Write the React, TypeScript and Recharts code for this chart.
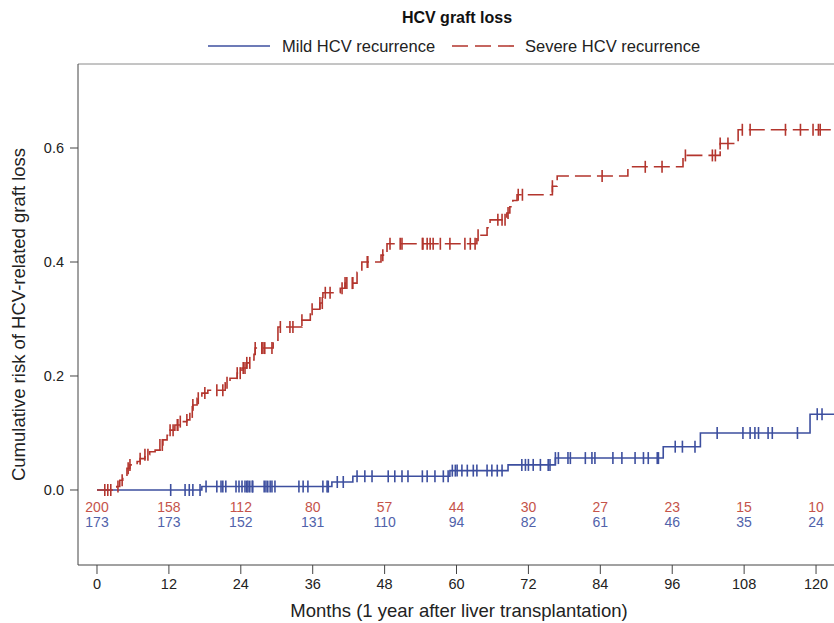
import { ComposedChart, Line, Scatter, XAxis, YAxis, ReferenceLine } from 'recharts'

// follow-up months shown on the x axis, and numbers at risk under each
const monthTicks = [0, 12, 24, 36, 48, 60, 72, 84, 96, 108, 120]
const riskTicks = [0, 0.2, 0.4, 0.6]
const atRiskSevere = [200, 158, 112, 80, 57, 44, 30, 27, 23, 15, 10]
const atRiskMild = [173, 173, 152, 131, 110, 94, 82, 61, 46, 35, 24]

// severe recurrence: step times (months) and cumulative risk after each step
const severeMonths = [
  0, 3.3, 3.8, 4.3, 5.0, 5.5, 6.7, 7.2, 8.0, 8.8, 9.7, 10.5, 11.0, 11.7, 12.2, 13.0, 13.9, 15.0, 15.5, 16.0,
  16.7, 17.5, 18.5, 21.4, 22.2, 23.4, 24.2, 25.0, 25.9, 26.2, 26.4, 29.4, 30.2, 34.2, 35.6, 37.2, 37.7, 40.6,
  41.4, 43.4, 44.2, 47.4, 48.4, 63.4, 65.1, 65.6, 68.4, 68.9, 69.4, 70.1, 76.0, 76.8, 88.6, 97.8, 104.0, 107.0, 124,
]
const severeRisk = [
  0, 0.006, 0.017, 0.026, 0.038, 0.044, 0.05, 0.055, 0.062, 0.067, 0.07, 0.079, 0.088, 0.096, 0.105, 0.114, 0.12,
  0.123, 0.137, 0.149, 0.161, 0.17, 0.175, 0.188, 0.196, 0.205, 0.214, 0.223, 0.228, 0.238, 0.249, 0.263, 0.286,
  0.298, 0.317, 0.328, 0.346, 0.354, 0.363, 0.382, 0.4, 0.412, 0.432, 0.447, 0.46, 0.474, 0.486, 0.497, 0.508,
  0.518, 0.533, 0.551, 0.567, 0.587, 0.608, 0.632, 0.632,
]
const severeCensored = [
  1.3, 1.8, 2.3, 3.5, 4.2, 5.2, 5.5, 7.2, 8.0, 8.5, 10.5, 10.9, 12.2, 12.7, 13.4, 13.5, 13.9, 15.0, 15.9, 16.0,
  16.9, 18.0, 20.0, 21.0, 21.7, 23.4, 23.9, 24.4, 24.7, 25.0, 25.5, 26.4, 27.5, 27.7, 28.0, 29.2, 30.6, 32.2,
  32.7, 34.2, 35.9, 37.2, 37.6, 38.1, 38.9, 40.9, 41.4, 41.7, 42.6, 42.7, 45.1, 45.2, 47.7, 48.9, 50.6, 50.9,
  54.3, 54.4, 55.1, 55.6, 56.1, 57.3, 58.9, 61.4, 62.3, 63.1, 63.6, 66.9, 67.6, 68.1, 68.6, 70.3, 71.0, 76.0,
  84.3, 91.5, 94.3, 98.2, 102.7, 103.2, 104.0, 105.3, 107.7, 109.0, 114.9, 117.4, 119.5, 120.4, 120.7,
]

// mild recurrence
const mildMonths = [0, 17.5, 39.2, 42.7, 58.9, 68.6, 76.5, 94.5, 100.7, 119.0, 124]
const mildRisk = [0, 0.006, 0.014, 0.024, 0.034, 0.044, 0.056, 0.076, 0.1, 0.133, 0.133]
const mildCensored = [
  12.3, 14.7, 15.4, 16.0, 17.2, 18.2, 20.0, 20.7, 21.0, 21.5, 23.2, 23.7, 24.2, 24.7, 25.0, 25.2, 25.5, 25.9,
  26.0, 27.9, 28.2, 28.5, 28.9, 29.2, 29.7, 33.7, 34.4, 35.2, 37.7, 38.4, 38.6, 40.1, 41.1, 43.4, 44.7, 45.9,
  48.6, 49.7, 50.9, 51.9, 54.3, 55.1, 56.4, 57.8, 58.6, 59.3, 59.8, 60.1, 60.9, 61.8, 62.8, 63.4, 65.1, 65.9,
  66.8, 67.6, 70.9, 71.5, 72.0, 72.8, 74.0, 75.3, 75.6, 76.5, 77.0, 78.6, 79.0, 81.5, 82.6, 83.1, 86.1, 87.6,
  89.8, 91.2, 92.0, 93.5, 93.7, 96.5, 97.7, 99.8, 103.5, 107.8, 109.0, 109.8, 110.4, 112.0, 112.7, 116.9,
  120.2, 121.0,
]

const SEVERE_LINE = '#b3352d'
const SEVERE_TEXT = '#c5534a'
const MILD_LINE = '#3d4f9f'
const MILD_TEXT = '#5162aa'
const FONT = '"Liberation Sans", Arial, sans-serif'

const X_MIN = -3.17
const X_MAX = 124
const Y_MIN = -0.1316
const Y_MAX = 0.7474

function toSteps(months: number[], risk: number[]) {
  return months.map((m, i) => ({ m, v: risk[i] }))
}

function riskAt(months: number[], risk: number[], t: number) {
  let v = 0
  for (let i = 0; i < months.length; i++) if (months[i] <= t) v = risk[i]
  return v
}

const severeSteps = toSteps(severeMonths, severeRisk)
const mildSteps = toSteps(mildMonths, mildRisk)
const severeMarks = severeCensored.map((m) => ({ m, v: riskAt(severeMonths, severeRisk, m) }))
const mildMarks = mildCensored.map((m) => ({ m, v: riskAt(mildMonths, mildRisk, m) }))
const severeAtRisk = monthTicks.map((m, i) => ({ m, v: -0.03, n: atRiskSevere[i] }))
const mildAtRisk = monthTicks.map((m, i) => ({ m, v: -0.056, n: atRiskMild[i] }))

const censorShape = (color: string) => (p: any) => (
  <line x1={p.cx} x2={p.cx} y1={p.cy - 6} y2={p.cy + 6} stroke={color} strokeWidth={1.6} />
)

const countShape = (color: string) => (p: any) => (
  <text x={p.cx} y={p.cy} textAnchor="middle" dominantBaseline="central" fill={color} fontSize={14} fontFamily={FONT}>
    {p.payload.n}
  </text>
)

export default function App() {
  return (
    <div style={{ position: 'absolute', left: 0, top: 0, width: 834, height: 623, overflow: 'hidden', background: '#fff', fontFamily: FONT }}>
      <div style={{ position: 'absolute', left: 0, top: 9, width: 914, textAlign: 'center', fontWeight: 'bold', fontSize: 16, lineHeight: '18px', color: '#111' }}>
        HCV graft loss
      </div>
      <svg style={{ position: 'absolute', left: 208, top: 41 }} width={62} height={10}>
        <line x1={0} x2={62} y1={5} y2={5} stroke={MILD_LINE} strokeWidth={1.6} />
      </svg>
      <div style={{ position: 'absolute', left: 282, top: 37, fontSize: 16.5, lineHeight: '18px', color: '#222' }}>Mild HCV recurrence</div>
      <svg style={{ position: 'absolute', left: 452, top: 41 }} width={62} height={10}>
        <line x1={0} x2={62} y1={5} y2={5} stroke={SEVERE_LINE} strokeWidth={1.6} strokeDasharray="16 7" />
      </svg>
      <div style={{ position: 'absolute', left: 525, top: 37, fontSize: 16.5, lineHeight: '18px', color: '#222' }}>Severe HCV recurrence</div>

      <div style={{ position: 'absolute', left: 0, top: 0 }}>
        <ComposedChart width={860} height={623} margin={{ top: 64, right: 20, bottom: 0, left: 0 }}>
          <XAxis
            type="number"
            dataKey="m"
            domain={[X_MIN, X_MAX]}
            allowDataOverflow
            ticks={monthTicks}
            height={58}
            tickSize={9}
            tickMargin={5}
            axisLine={{ stroke: '#444' }}
            tickLine={{ stroke: '#444' }}
            tick={{ fontSize: 14.5, fill: '#222', fontFamily: FONT }}
            label={{ value: 'Months (1 year after liver transplantation)', position: 'insideBottom', offset: 6, fontSize: 18.5, fill: '#222', fontFamily: FONT }}
          />
          <YAxis
            type="number"
            domain={[Y_MIN, Y_MAX]}
            allowDataOverflow
            ticks={riskTicks}
            width={78}
            tickSize={8}
            tickMargin={6}
            tickFormatter={(v: number) => v.toFixed(1)}
            axisLine={{ stroke: '#444' }}
            tickLine={{ stroke: '#444' }}
            tick={{ fontSize: 14.5, fill: '#222', fontFamily: FONT }}
            label={{ value: 'Cumulative risk of HCV-related graft loss', angle: -90, position: 'insideLeft', offset: 18, style: { textAnchor: 'middle' }, fontSize: 18.5, fill: '#222', fontFamily: FONT }}
          />
          <ReferenceLine y={Y_MAX} stroke="#8a8a8a" ifOverflow="extendDomain" />
          <Line data={mildSteps} dataKey="v" type="stepAfter" stroke={MILD_LINE} strokeWidth={1.6} dot={false} activeDot={false} isAnimationActive={false} />
          <Line data={severeSteps} dataKey="v" type="stepAfter" stroke={SEVERE_LINE} strokeWidth={1.6} strokeDasharray="16 6" dot={false} activeDot={false} isAnimationActive={false} />
          <Scatter data={mildMarks} dataKey="v" shape={censorShape(MILD_LINE)} isAnimationActive={false} />
          <Scatter data={severeMarks} dataKey="v" shape={censorShape(SEVERE_LINE)} isAnimationActive={false} />
          <Scatter data={severeAtRisk} dataKey="v" shape={countShape(SEVERE_TEXT)} isAnimationActive={false} />
          <Scatter data={mildAtRisk} dataKey="v" shape={countShape(MILD_TEXT)} isAnimationActive={false} />
        </ComposedChart>
      </div>
    </div>
  )
}
